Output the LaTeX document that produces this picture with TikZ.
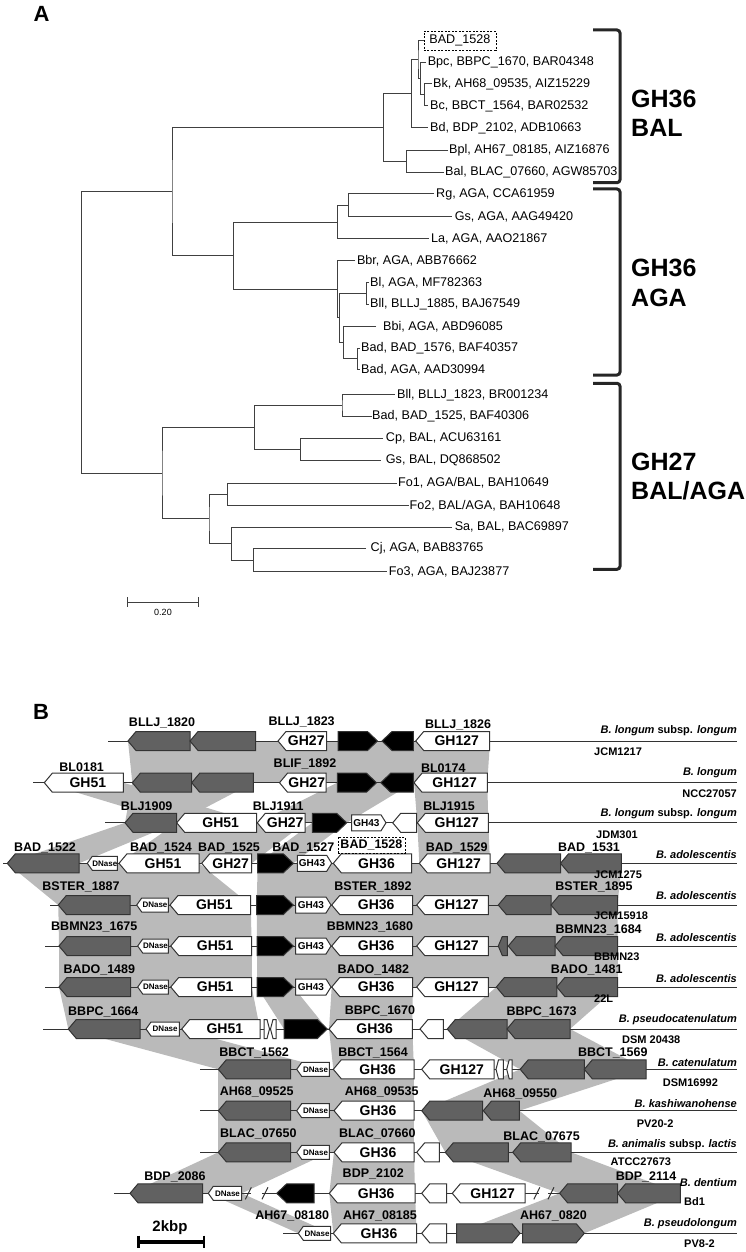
\documentclass[tikz,border=0pt]{standalone}
\usepackage{fontspec}
\setmainfont{Liberation Sans}
\usetikzlibrary{calc}
\colorlet{gdk}{black!62}
% gene row helpers (y of the current row, half height, tip length)
\newcommand{\rowy}{0}
\newcommand{\geneh}{9.5}
\newcommand{\genet}{8}
\newcommand{\gl}[4][white]{%
  \draw[gene,fill=#1] (#2,\rowy) -- (#2+\genet,\rowy-\geneh) -- (#3,\rowy-\geneh)
    -- (#3,\rowy+\geneh) -- (#2+\genet,\rowy+\geneh) -- cycle;
  \node[gtxt] at ({(#2+#3+\genet)/2},\rowy) {#4};}
\newcommand{\gr}[4][white]{%
  \draw[gene,fill=#1] (#3,\rowy) -- (#3-\genet,\rowy-\geneh) -- (#2,\rowy-\geneh)
    -- (#2,\rowy+\geneh) -- (#3-\genet,\rowy+\geneh) -- cycle;
  \node[gtxt] at ({(#2+#3-\genet)/2},\rowy) {#4};}
\newcommand{\kl}[2]{{\renewcommand{\genet}{10}\gl[black]{#1}{#2}{}}}
\newcommand{\kr}[2]{{\renewcommand{\genet}{10}\gr[black]{#1}{#2}{}}}
\newcommand{\dn}[2]{{\renewcommand{\geneh}{7}\renewcommand{\genet}{5}%
  \gl{#1}{#2}{\fontsize{8}{9}\selectfont DNase}}}
\newcommand{\gf}[2]{{\renewcommand{\geneh}{8}\renewcommand{\genet}{5}%
  \gr{#1}{#2}{\fontsize{10}{11}\selectfont GH43}}}
\newcommand{\tyl}[2]{{\renewcommand{\genet}{2.5}\gl{#1}{#2}{}}}
\newcommand{\tyr}[2]{{\renewcommand{\genet}{2.5}\gr{#1}{#2}{}}}
\newcommand{\cut}[1]{\draw[gene] (#1-3,\rowy+6) -- (#1+3,\rowy-6);}
\newcommand{\band}[6]{\fill[band] (#2,#1) -- (#3,#1) -- (#6,#4) -- (#5,#4) -- cycle;}
\newcommand{\lc}[3]{\node[loc] at (#1,#2) {#3};}
% tree helpers
\newcommand{\leaf}[5]{\coordinate (t#1) at (#3,#2); \node[lf] (a#1) at (#4,#2) {#5};}
\newcommand{\cl}[3]{\draw[br] (#2) -| (#1) |- (#3);}
\begin{document}
\begin{tikzpicture}[x=1pt,y=-1pt,
  br/.style={line width=1pt,black!75},
  lf/.style={anchor=west,inner sep=0pt,font=\fontsize{12.6}{14}\selectfont},
  brk/.style={line width=3pt,black!85,rounded corners=3pt},
  grp/.style={anchor=west,align=left,inner sep=0pt,font=\fontsize{25}{29.3}\selectfont\bfseries},
  gene/.style={draw=black!80,line width=1pt},
  gtxt/.style={font=\fontsize{14}{16}\selectfont\bfseries,inner sep=0pt},
  loc/.style={font=\fontsize{12.5}{14}\selectfont\bfseries,inner sep=0pt},
  spc/.style={anchor=east,font=\fontsize{11}{13}\selectfont\bfseries,inner sep=0pt},
  str/.style={anchor=west,font=\fontsize{11}{13}\selectfont\bfseries,inner sep=0pt},
  band/.style={fill=black!27},
  bb/.style={line width=1pt,black!80},
  pan/.style={font=\fontsize{22}{24}\selectfont\bfseries}]
\useasboundingbox (0,0) rectangle (745,1252);

%% panel A
\node[pan] (pA) at (41.5,13.7) {A};
\coordinate (t0) at (423.7,40.7);
\node[lf,draw,dashed,dash pattern=on 2pt off 1.5pt,inner xsep=5.5pt,minimum height=19pt] (a0) at (t0) {BAD\_1528};
\leaf{1}{62.3}{426}{427.6}{Bpc, BBPC\_1670, BAR04348}
\leaf{2}{84}{432}{433}{Bk, AH68\_09535, AIZ15229}
\leaf{3}{106}{428}{430}{Bc, BBCT\_1564, BAR02532}
\leaf{4}{127.7}{428}{430}{Bd, BDP\_2102, ADB10663}
\leaf{5}{150.7}{448}{449}{Bpl, AH67\_08185, AIZ16876}
\leaf{6}{172.3}{444}{445}{Bal, BLAC\_07660, AGW85703}
\leaf{7}{194}{434}{436}{Rg, AGA, CCA61959}
\leaf{8}{216.7}{452}{454.6}{Gs, AGA, AAG49420}
\leaf{9}{238.7}{429}{431}{La, AGA, AAO21867}
\leaf{10}{260.3}{355}{356.8}{Bbr, AGA, ABB76662}
\leaf{11}{282.3}{369}{370}{Bl, AGA, MF782363}
\leaf{12}{304}{369}{370}{Bll, BLLJ\_1885, BAJ67549}
\leaf{13}{326.3}{376}{383}{Bbi, AGA, ABD96085}
\leaf{14}{348}{360}{361}{Bad, BAD\_1576, BAF40357}
\leaf{15}{369.7}{360}{361}{Bad, AGA, AAD30994}
\leaf{16}{394.7}{395}{397}{Bll, BLLJ\_1823, BR001234}
\leaf{17}{416.3}{371.5}{372}{Bad, BAD\_1525, BAF40306}
\leaf{18}{438.7}{383}{385.7}{Cp, BAL, ACU63161}
\leaf{19}{460.3}{381}{385.7}{Gs, BAL, DQ868502}
\leaf{20}{483}{397}{398}{Fo1, AGA/BAL, BAH10649}
\leaf{21}{505.3}{408.6}{409.5}{Fo2, BAL/AGA, BAH10648}
\leaf{22}{527}{452}{454.6}{Sa, BAL, BAC69897}
\leaf{23}{548.7}{366}{370.5}{Cj, AGA, BAB83765}
\leaf{24}{571.7}{387}{388.6}{Fo3, AGA, BAJ23877}

\coordinate (n4) at (424.2,95);
\coordinate (n3) at (420.9,78.65);
\coordinate (n2) at (418,59.7);
\coordinate (n1) at (411.4,93.7);
\coordinate (n5) at (406.7,161.5);
\coordinate (nbal) at (383.8,127.6);
\coordinate (n7) at (348.2,205.35);
\coordinate (n8) at (337.3,222);
\coordinate (n9) at (366.7,293.15);
\coordinate (n10) at (357.2,358.85);
\coordinate (n11) at (343.5,342.6);
\coordinate (n12) at (339.7,317.9);
\coordinate (n13) at (337.3,289.1);
\coordinate (naga) at (233.7,255.55);
\coordinate (ntop) at (172,191.6);
\coordinate (n16) at (342,405.5);
\coordinate (n17) at (300.2,449.5);
\coordinate (n18) at (254.6,427.5);
\coordinate (n19) at (227.6,494.15);
\coordinate (n20) at (253.2,560.2);
\coordinate (n21) at (231.4,543.6);
\coordinate (n22) at (209,518.9);
\coordinate (ngh) at (162,473.2);
\coordinate (root) at (81.7,332.4);

\cl{n4}{t2}{t3}
\cl{n3}{t1}{n4}
\cl{n2}{t0}{n3}
\cl{n1}{n2}{t4}
\cl{n5}{t5}{t6}
\cl{nbal}{n1}{n5}
\cl{n7}{t7}{t8}
\cl{n8}{n7}{t9}
\cl{n9}{t11}{t12}
\cl{n10}{t14}{t15}
\cl{n11}{t13}{n10}
\cl{n12}{n9}{n11}
\cl{n13}{t10}{n12}
\cl{naga}{n8}{n13}
\cl{ntop}{nbal}{naga}
\cl{n16}{t16}{t17}
\cl{n17}{t18}{t19}
\cl{n18}{n16}{n17}
\cl{n19}{t20}{t21}
\cl{n20}{t23}{t24}
\cl{n21}{t22}{n20}
\cl{n22}{n19}{n21}
\cl{ngh}{n18}{n22}
\cl{root}{ntop}{ngh}

% scale bar
\coordinate (s1) at (127.3,602.3);
\coordinate (s2) at (198.6,602.3);
\draw[br,line width=0.8pt] (s1) -- (s2) ($(s1)+(0,-5)$) -- ($(s1)+(0,5)$) ($(s2)+(0,-5)$) -- ($(s2)+(0,5)$);
\node[font=\fontsize{9}{10}\selectfont] (sl) at (163,612) {0.20};

% brackets
\draw[brk] (593,30) -- (620,30) -- (620,182.7) -- (593,182.7);
\draw[brk] (593,189) -- (620,189) -- (620,375) -- (593,375);
\draw[brk] (593,383.3) -- (620,383.3) -- (620,569.3) -- (593,569.3);
\node[grp] (g1) at (631,113.5) {GH36\\BAL};
\node[grp] (g2) at (631,283) {GH36\\AGA};
\node[grp] (g3) at (631,476.7) {GH27\\BAL/AGA};

%% panel B
\node[pan] (pB) at (41,712) {B};

% shaded homology bands
\band{741}{128}{490}{782.7}{132.3}{487.3}
\band{782.7}{132.3}{253.3}{822.8}{125}{176.7}
\band{782.7}{44.3}{123.3}{822.8}{176.7}{256.7}
\band{782.7}{337.3}{413.3}{822.8}{257.3}{346.7}
\band{782.7}{414}{487.3}{822.8}{417.3}{488.3}
\band{822.8}{125}{176.7}{863.3}{7.3}{79}
\band{822.8}{176.7}{305}{863.3}{119}{251.7}
\band{822.8}{312.3}{346.7}{863.3}{257.7}{293.3}
\band{822.8}{417.3}{488.3}{863.3}{419.3}{490}
\band{863.3}{7.3}{199}{905}{58.3}{250.7}
\band{863.3}{257.7}{621.4}{905}{256.7}{617.6}
\band{905}{58.3}{250.7}{946}{59}{251.7}
\band{905}{256.7}{617.6}{946}{257}{617.6}
\band{946}{59}{251.7}{987}{59}{251.7}
\band{946}{257}{617.6}{987}{257}{617.6}
\band{987}{59}{251.7}{1029}{68.3}{260}
\band{987}{257}{293.3}{1029}{284}{327.3}
\band{987}{331.7}{412.7}{1029}{329}{412.3}
\band{987}{496.4}{617.6}{1029}{447.3}{570}
\band{1029}{68.3}{179.3}{1069.3}{218.3}{329.3}
\band{1029}{329}{412.3}{1069.3}{333.3}{414}
\band{1029}{447.3}{570}{1069.3}{520.2}{646}
\band{1069.3}{218.3}{414}{1110.7}{218.3}{414}
\band{1069.3}{520.2}{646}{1110.7}{421.7}{519.3}
\band{1110.7}{218.3}{414}{1152.3}{218.3}{414}
\band{1110.7}{421.7}{519.3}{1152.3}{445.3}{571}
\band{1152.3}{218.3}{329.3}{1193.3}{130}{241.7}
\band{1152.3}{334}{414}{1193.3}{329.3}{415}
\band{1152.3}{445.3}{571}{1193.3}{559.6}{680.3}
\band{1193.3}{208.3}{241.7}{1233.3}{298.3}{330.7}
\band{1193.3}{329.3}{415}{1233.3}{333.3}{416.7}
\band{1193.3}{559.6}{680.3}{1233.3}{456.7}{584.3}

% row 1
\renewcommand{\rowy}{741}
\draw[bb] (108,\rowy) -- (737,\rowy);
\gl[gdk]{128}{190}{} \gl[gdk]{190}{255.6}{}
\gl{278}{326.5}{GH27}
\kr{338}{377.5} \kl{382}{413.3}
\gl{415.7}{489.7}{GH127}
\lc{162}{723}{BLLJ\_1820} \lc{301.7}{722}{BLLJ\_1823} \lc{458}{725}{BLLJ\_1826}
\node[spc] at (737,730.7) {\textit{B. longum} subsp. \textit{longum}};
\node[str] at (594,751.7) {JCM1217};

% row 2
\renewcommand{\rowy}{782.7}
\draw[bb] (33.3,\rowy) -- (737,\rowy);
\gl{44.3}{123.3}{GH51}
\gl[gdk]{132.3}{191.7}{} \gl[gdk]{191.7}{253.3}{}
\gl{279.5}{326}{GH27}
\kr{337.3}{376.5} \kl{380.7}{413.3}
\gl{414}{487.3}{GH127}
\lc{81.7}{766.7}{BL0181} \lc{305}{764}{BLIF\_1892} \lc{443.3}{767.7}{BL0174}
\node[spc] at (737,772.3) {\textit{B. longum}};
\node[spc] at (737,793.3) {NCC27057};

% row 3
\renewcommand{\rowy}{822.8}
\draw[bb] (105,\rowy) -- (737,\rowy);
\gl[gdk]{125}{176.7}{}
\gl{176.7}{256.7}{GH51}
\gl{257.3}{305}{GH27}
\kr{312.3}{346.7}
\gf{351.7}{386}
\gl{392.7}{416.7}{}
\gl{417.3}{488.3}{GH127}
\lc{146.7}{806.5}{BLJ1909} \lc{278.3}{806.5}{BLJ1911} \lc{449}{806.5}{BLJ1915}
\node[spc] at (737,814) {\textit{B. longum} subsp. \textit{longum}};
\node[str] at (596,834.3) {JDM301};

% row 4
\renewcommand{\rowy}{863.3}
\draw[bb] (3.3,\rowy) -- (737,\rowy);
\gl[gdk]{7.3}{79}{}
\dn{87.3}{117.3}
\gl{119}{199}{GH51}
\gl{201.7}{251.7}{GH27}
\kr{257.7}{293.3}
\gf{297.3}{331.7}
\gl{333.3}{411.7}{GH36}
\gl{419.3}{490}{GH127}
\gl[gdk]{497}{560.5}{} \gl[gdk]{560.5}{621.4}{}
\lc{45}{848.3}{BAD\_1522} \lc{161}{848.3}{BAD\_1524} \lc{229}{848.3}{BAD\_1525}
\lc{303.3}{848.3}{BAD\_1527}
\node[loc,draw,dashed,dash pattern=on 2pt off 1.5pt,inner xsep=2.7pt,minimum height=16pt] at (371.4,845.3) {BAD\_1528};
\lc{456.7}{848.3}{BAD\_1529} \lc{589}{848.3}{BAD\_1531}
\node[spc] at (737,854.3) {\textit{B. adolescentis}};
\node[str] at (594,875) {JCM1275};

% row 5
\renewcommand{\rowy}{905}
\draw[bb] (50,\rowy) -- (737,\rowy);
\gl[gdk]{58.3}{130}{} \dn{136.7}{168.3} \gl{170}{250.7}{GH51}
\kr{256.7}{293.3} \gf{295.7}{331}
\gl{331.7}{412.7}{GH36} \gl{416.7}{488.3}{GH127}
\gl[gdk]{498.3}{551}{} \gl[gdk]{551}{617.6}{}
\lc{81}{886.7}{BSTER\_1887} \lc{373}{886.7}{BSTER\_1892} \lc{594}{886.7}{BSTER\_1895}
\node[spc] at (737,895.7) {\textit{B. adolescentis}};
\node[str] at (594,916) {JCM15918};

% row 6
\renewcommand{\rowy}{946}
\draw[bb] (45,\rowy) -- (737,\rowy);
\gl[gdk]{59}{130.7}{} \dn{137.7}{168.3} \gl{170.7}{251.7}{GH51}
\kr{257}{293.3} \gf{295.7}{331}
\gl{331.7}{412.7}{GH36} \gl{416.7}{488.3}{GH127}
{\renewcommand{\genet}{4}\gl[gdk]{498.3}{507.4}{}}
\gl[gdk]{508.3}{555}{} \gl[gdk]{555}{617.6}{}
\lc{94.3}{927.3}{BBMN23\_1675} \lc{370}{927.3}{BBMN23\_1680} \lc{598.6}{930}{BBMN23\_1684}
\node[spc] at (737,937.3) {\textit{B. adolescentis}};
\node[str] at (594,956.7) {BBMN23};

% row 7
\renewcommand{\rowy}{987}
\draw[bb] (45,\rowy) -- (737,\rowy);
\gl[gdk]{59}{130.7}{} \dn{137.7}{168.3} \gl{170.7}{251.7}{GH51}
\kr{257}{293.3} \gf{295.7}{331}
\gl{331.7}{412.7}{GH36} \gl{416.7}{488.3}{GH127}
\gl[gdk]{496.4}{556.8}{} \gl[gdk]{556.8}{617.6}{}
\lc{99.3}{970}{BADO\_1489} \lc{373.3}{970}{BADO\_1482} \lc{586.7}{970}{BADO\_1481}
\node[spc] at (737,978.3) {\textit{B. adolescentis}};
\node[str] at (594,999) {22L};

% row 8
\renewcommand{\rowy}{1029}
\draw[bb] (43.3,\rowy) -- (737,\rowy);
\gl[gdk]{68.3}{140}{} \dn{146}{179.3} \gl{181.7}{260}{GH51}
\tyr{264}{269.5} \tyl{270.5}{276}
\kr{284}{327.3}
\gl{329}{412.3}{GH36} \gl{420}{443.3}{}
\gl[gdk]{447.3}{507}{} \gl[gdk]{507}{570}{}
\lc{103.3}{1012}{BBPC\_1664} \lc{380}{1010.7}{BBPC\_1670} \lc{541.6}{1011.7}{BBPC\_1673}
\node[spc] at (737,1020) {\textit{B. pseudocatenulatum}};
\node[str] at (622,1040) {DSM 20438};

% row 9
\renewcommand{\rowy}{1069.3}
\draw[bb] (200,\rowy) -- (737,\rowy);
\gl[gdk]{218.3}{290.7}{} \dn{296.7}{329.3}
\gl{333.3}{414}{GH36} \gl{421.7}{494}{GH127}
\tyl{496}{503.3} \tyl{506.7}{512}
\gl[gdk]{520.2}{584.3}{} \gl[gdk]{584.3}{646}{}
\lc{254.2}{1052.7}{BBCT\_1562} \lc{373}{1052.7}{BBCT\_1564} \lc{612.8}{1052.7}{BBCT\_1569}
\node[spc] at (737,1062.7) {\textit{B. catenulatum}};
\node[str] at (662.7,1082.3) {DSM16992};

% row 10
\renewcommand{\rowy}{1110.7}
\draw[bb] (200,\rowy) -- (737,\rowy);
\gl[gdk]{218.3}{290.7}{} \dn{296.7}{329.3}
\gl{334}{414}{GH36}
\gl[gdk]{421.7}{482.7}{} \gl[gdk]{483.3}{519.3}{}
\lc{256.7}{1092.3}{AH68\_09525} \lc{381.7}{1092.3}{AH68\_09535} \lc{520.2}{1094}{AH68\_09550}
\node[spc] at (737,1104) {\textit{B. kashiwanohense}};
\node[str] at (636.6,1124) {PV20-2};

% row 11
\renewcommand{\rowy}{1152.3}
\draw[bb] (200,\rowy) -- (737,\rowy);
\gl[gdk]{218.3}{290.7}{} \dn{296.7}{329.3}
\gl{334}{414}{GH36} \gl{416.7}{439.3}{}
\gl[gdk]{445.3}{508.3}{} \gl[gdk]{512.7}{571}{}
\lc{258.3}{1134.3}{BLAC\_07650} \lc{377.3}{1134.3}{BLAC\_07660} \lc{541.6}{1136.7}{BLAC\_07675}
\node[spc] at (737,1145) {\textit{B. animalis} subsp. \textit{lactis}};
\node[str] at (610.5,1161.7) {ATCC27673};

% row 12
\renewcommand{\rowy}{1193.3}
\draw[bb] (114.3,\rowy) -- (251,\rowy) (262,\rowy) -- (539,\rowy) (548,\rowy) -- (559.6,\rowy);
\gl[gdk]{130}{202.7}{} \dn{208.3}{241.7}
\cut{248.3} \cut{265}
\kl{276.7}{314}
\gl{329.3}{415}{GH36} \gl{421.7}{446.7}{} \gl{452.3}{525}{GH127}
\cut{536.8} \cut{551}
\gl[gdk]{559.6}{617.6}{} \gl[gdk]{617.6}{680.3}{}
\lc{175}{1176.7}{BDP\_2086} \lc{373.3}{1174.3}{BDP\_2102} \lc{646}{1177.3}{BDP\_2114}
\node[spc] at (737,1182.3) {\textit{B. dentium}};
\node[str] at (684,1201.7) {Bd1};

% row 13
\renewcommand{\rowy}{1233.3}
\draw[bb] (283.3,\rowy) -- (737,\rowy);
\dn{298.3}{330.7}
\gl{333.3}{416.7}{GH36} \gl{421.7}{446.7}{}
\gr[gdk]{456.7}{520}{} \gr[gdk]{522.6}{584.3}{}
\lc{292.2}{1216}{AH67\_08180} \lc{380}{1216}{AH67\_08185} \lc{553.4}{1216}{AH67\_0820}
\node[spc] at (737,1224) {\textit{B. pseudolongum}};
\node[str] at (684,1243.3) {PV8-2};

% 2 kbp bar
\node[font=\fontsize{15}{17}\selectfont\bfseries] (kb) at (170,1227.7) {2kbp};
\coordinate (k1) at (138.3,1241.7);
\coordinate (k2) at (204,1241.7);
\draw[line width=4pt] (k1) -- (k2);
\draw[line width=2.5pt] ($(k1)+(0,-6)$) -- ($(k1)+(0,6)$) ($(k2)+(0,-6)$) -- ($(k2)+(0,6)$);
\end{tikzpicture}
\end{document}
